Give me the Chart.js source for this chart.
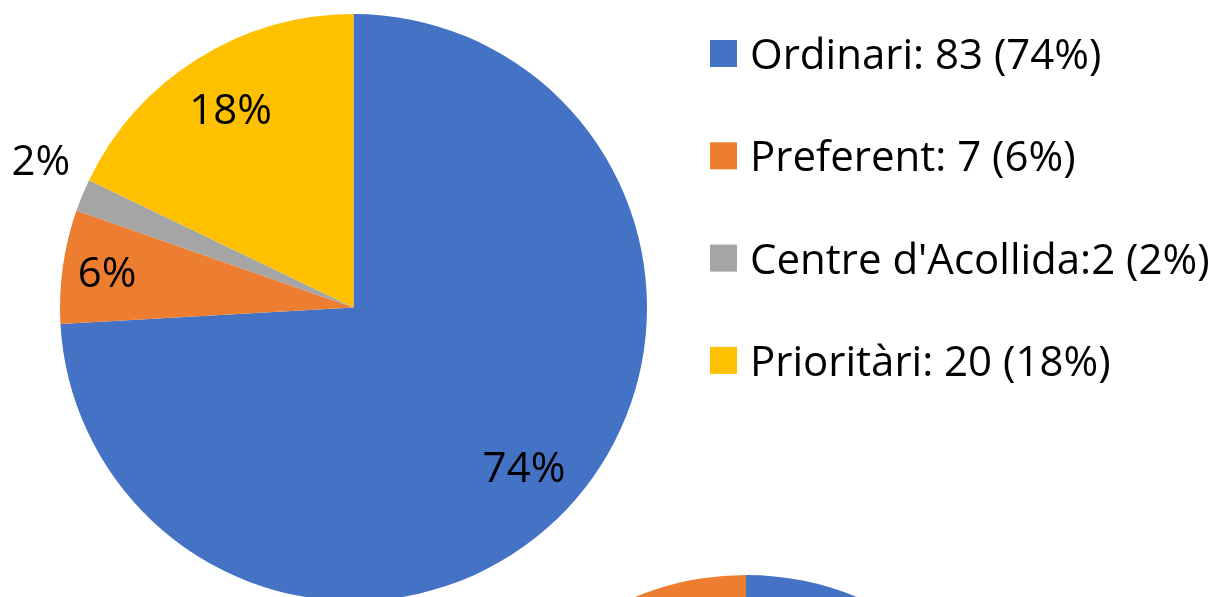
<!DOCTYPE html>
<html>
<head>
<meta charset="utf-8">
<script src="https://cdn.jsdelivr.net/npm/chart.js@4.4.0/dist/chart.umd.min.js"></script>
<style>
  html, body { margin: 0; padding: 0; background: #ffffff; overflow: hidden; }
  #wrap { position: relative; width: 1222px; height: 597px; overflow: hidden; background: #fff; }
  #c1 { position: absolute; left: 0; top: 0; }
  #c2 { position: absolute; left: 446px; top: 566px; }
</style>
</head>
<body>
<div id="wrap">
  <canvas id="c1" width="1222" height="700"></canvas>
  <canvas id="c2" width="600" height="600"></canvas>
</div>
<script>
// ---- data ----
const categories = ["Ordinari", "Preferent", "Centre d'Acollida", "Prioritàri"];
const values = [83, 7, 2, 20];
const percentLabels = ["74%", "6%", "2%", "18%"];
const legendLabels = ["Ordinari: 83 (74%)", "Preferent: 7 (6%)", "Centre d'Acollida:2 (2%)", "Prioritàri: 20 (18%)"];
// second (partially visible) pie below the first
const secondCategories = ["A", "B"];
const secondValues = [60, 40];

// ---- style ----
const colors = ["#4472C4", "#ED7D31", "#A5A5A5", "#FFC000"];
const labelRadiusFactor = [0.79, 0.855, 1.16, 0.80];
const labelShiftY = [0, 0, -17, 0];
const FONT = "'Open Sans', 'Liberation Sans', sans-serif";

const labelPlugin = {
  id: 'pctLabels',
  afterDatasetsDraw(chart) {
    const ctx = chart.ctx;
    const meta = chart.getDatasetMeta(0);
    ctx.save();
    ctx.font = "42px " + FONT;
    ctx.fillStyle = "#000000";
    ctx.textAlign = "center";
    ctx.textBaseline = "alphabetic";
    meta.data.forEach((arc, i) => {
      const p = arc.getProps(['x', 'y', 'startAngle', 'endAngle', 'outerRadius'], true);
      const mid = (p.startAngle + p.endAngle) / 2;
      const r = p.outerRadius * labelRadiusFactor[i];
      const x = p.x + Math.cos(mid) * r;
      const y = p.y + Math.sin(mid) * r + labelShiftY[i];
      ctx.fillText(percentLabels[i], x + 2, y + 15);
    });
    ctx.restore();
  }
};

const legendPlugin = {
  id: 'sideLegend',
  afterDraw(chart) {
    const ctx = chart.ctx;
    ctx.save();
    ctx.font = "42px " + FONT;
    ctx.textBaseline = "alphabetic";
    ctx.textAlign = "left";
    const boxX = 710, box = 27, textX = 750, top0 = 40, step = 102.3;
    legendLabels.forEach((t, i) => {
      const y = top0 + i * step;
      ctx.fillStyle = colors[i];
      ctx.fillRect(boxX, y, box, box);
      ctx.fillStyle = "#000000";
      ctx.fillText(t, textX, y + 29);
    });
    ctx.restore();
  }
};

new Chart(document.getElementById('c1'), {
  type: 'pie',
  data: {
    labels: categories,
    datasets: [{ data: values, backgroundColor: colors, borderWidth: 0 }]
  },
  options: {
    responsive: false,
    animation: false,
    devicePixelRatio: 1,
    layout: { padding: { left: 60, right: 575, top: 14, bottom: 99 } },
    plugins: { legend: { display: false }, tooltip: { enabled: false } }
  },
  plugins: [labelPlugin, legendPlugin]
});

new Chart(document.getElementById('c2'), {
  type: 'pie',
  data: {
    labels: secondCategories,
    datasets: [{ data: secondValues, backgroundColor: [colors[0], colors[1]], borderWidth: 0 }]
  },
  options: {
    responsive: false,
    animation: false,
    devicePixelRatio: 1,
    layout: { padding: 9 },
    plugins: { legend: { display: false }, tooltip: { enabled: false } }
  }
});
</script>
</body>
</html>
